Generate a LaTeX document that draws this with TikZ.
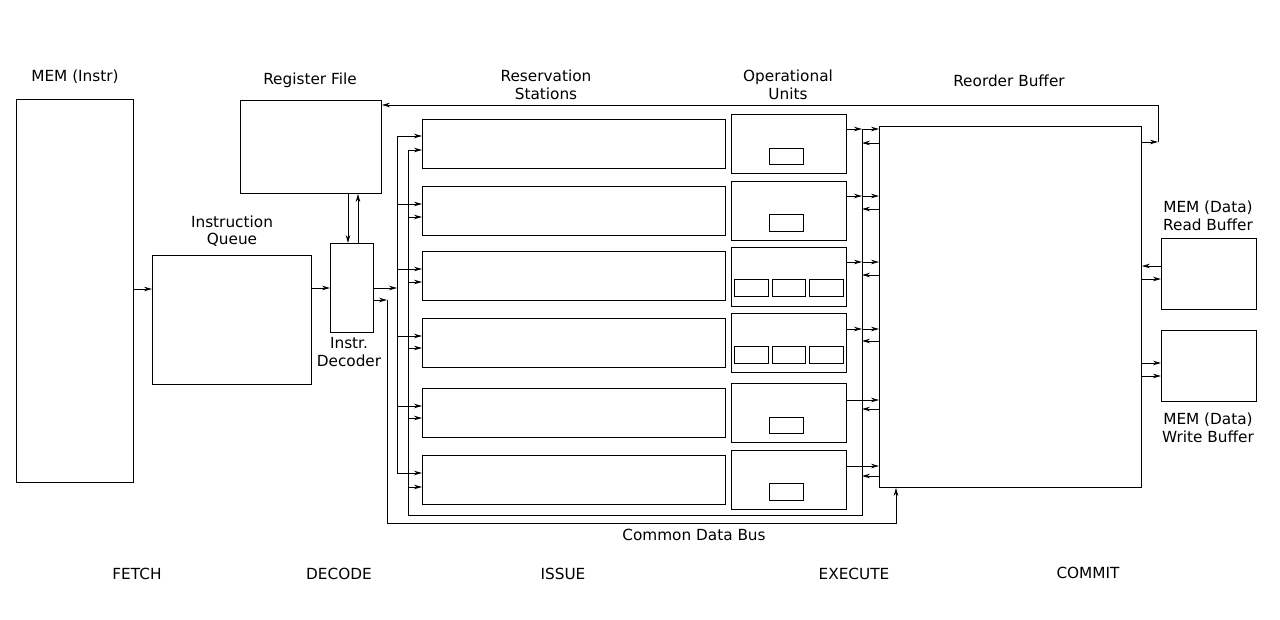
\documentclass[tikz,border=0pt]{standalone}
\usepackage{fontspec}
\setmainfont{DejaVu Sans}
\usetikzlibrary{arrows.meta}
\begin{document}
\begin{tikzpicture}[x=1pt,y=-1pt,
  box/.style={draw, line width=0.9pt, inner sep=0pt, anchor=north west},
  lbl/.style={font=\fontsize{15.3}{17.5}\selectfont, align=center, inner sep=0pt},
  wire/.style={line width=0.8pt},
  arr/.style={line width=0.8pt, -{Stealth[length=8pt,width=4.5pt]}}]
\useasboundingbox (0,0) rectangle (1280,620);
% boxes
\node[box, minimum width=117pt, minimum height=383pt] (mem) at (16,99) {};
\node[box, minimum width=159pt, minimum height=129pt] (iq) at (152,255) {};
\node[box, minimum width=141pt, minimum height=93pt] (rf) at (240,100) {};
\node[box, minimum width=43pt, minimum height=89pt] (dec) at (330,243) {};
\node[box, minimum width=262pt, minimum height=361pt] (rob) at (879,126) {};
\node[box, minimum width=95pt, minimum height=71pt] (rb) at (1161,238) {};
\node[box, minimum width=95pt, minimum height=71pt] (wb) at (1161,330) {};
\foreach \i/\t in {1/119,2/186,3/251,4/318,5/388,6/455}{
  \node[box, minimum width=303pt, minimum height=49pt] (rs\i) at (422,\t) {};
}
\foreach \i/\t in {1/114,2/181,3/247,4/313,5/383,6/450}{
  \node[box, minimum width=115pt, minimum height=59pt] (ou\i) at (731,\t) {};
}
\foreach \i/\t in {1/148,2/214.5,5/416.5,6/483}{
  \node[box, minimum width=34pt, minimum height=16.5pt] (fu\i) at (769,\t) {};
}
\foreach \i/\t in {3/279,4/346}{
  \node[box, minimum width=34pt, minimum height=17pt] (fu\i a) at (734,\t) {};
  \node[box, minimum width=33pt, minimum height=17pt] (fu\i b) at (772,\t) {};
  \node[box, minimum width=34pt, minimum height=17pt] (fu\i c) at (809,\t) {};
}
% labels
\node[lbl] (lmem) at (75,77) {MEM (Instr)};
\node[lbl] (lrf) at (310,80) {Register File};
\node[lbl] (lrs) at (546,85) {Reservation\\Stations};
\node[lbl] (lou) at (788,85) {Operational\\Units};
\node[lbl] (lrob) at (1009,81) {Reorder Buffer};
\node[lbl] (liq) at (232,231) {Instruction\\Queue};
\node[lbl] (ldec) at (349,352) {Instr.\\Decoder};
\node[lbl] (lrb) at (1208,216) {MEM (Data)\\Read Buffer};
\node[lbl] (lwb) at (1208,428) {MEM (Data)\\Write Buffer};
\node[lbl] (lcdb) at (694,535) {Common Data Bus};
\node[lbl] (s1) at (137,574) {FETCH};
\node[lbl] (s2) at (339,574) {DECODE};
\node[lbl] (s3) at (563,574) {ISSUE};
\node[lbl] (s4) at (854,574) {EXECUTE};
\node[lbl] (s5) at (1088,573) {COMMIT};
% bus coordinates
\coordinate (aT) at (397,136);
\coordinate (aB) at (397,473);
\coordinate (aIn) at (397,288);
\coordinate (bT) at (408,150);
\coordinate (bB) at (408,515);
\coordinate (cdbB) at (862,515);
\coordinate (cdbT) at (862,130);
\coordinate (cIn) at (387,300);
\coordinate (cB) at (387,523);
\coordinate (cR) at (896,523);
\coordinate (rfT) at (1158,142);
\coordinate (rfU) at (1158,105);
% front end
\draw[arr] (mem.east |- 0,289) -- (iq.west |- 0,289);
\draw[arr] (iq.east |- 0,288) -- (dec.west |- 0,288);
\draw[arr] (rf.south -| 348,0) -- (dec.north -| 348,0);
\draw[arr] (dec.north -| 358,0) -- (rf.south -| 358,0);
\draw[arr] (dec.east |- aIn) -- (aIn);
\draw[wire] (aT) -- (aB);
\draw[arr] (dec.east |- cIn) -- (cIn);
\draw[arr] (cIn) -- (cB) -- (cR) -- (cR |- rob.south);
% bus B / CDB
\draw[wire] (bT) -- (bB) -- (cdbB) -- (cdbT);
\foreach \i/\ya/\yb in {1/136/150,2/204/217,3/269/282,4/336/348,5/406/418,6/473/487}{
  \draw[arr] (aT |- 0,\ya) -- (rs\i.west |- 0,\ya);
  \draw[arr] (bT |- 0,\yb) -- (rs\i.west |- 0,\yb);
}
% OU -> ROB
\foreach \i/\y in {1/129,2/196,3/262,4/329}{
  \draw[arr] (ou\i.east |- 0,\y) -- (cdbT |- 0,\y);
  \draw[arr] (cdbT |- 0,\y) -- (rob.west |- 0,\y);
}
\foreach \i/\y in {5/400,6/466}{
  \draw[arr] (ou\i.east |- 0,\y) -- (rob.west |- 0,\y);
}
% ROB -> CDB
\foreach \y in {143,209,275,341,409,476}{
  \draw[arr] (rob.west |- 0,\y) -- (cdbT |- 0,\y);
}
% ROB -> RF
\draw[arr] (rob.east |- rfT) -- (rfT);
\draw[arr] (rfT) -- (rfU) -- (rf.east |- rfU);
% memory buffers
\draw[arr] (rb.west |- 0,266) -- (rob.east |- 0,266);
\draw[arr] (rob.east |- 0,279) -- (rb.west |- 0,279);
\draw[arr] (rob.east |- 0,363) -- (wb.west |- 0,363);
\draw[arr] (rob.east |- 0,376) -- (wb.west |- 0,376);
\end{tikzpicture}
\end{document}
